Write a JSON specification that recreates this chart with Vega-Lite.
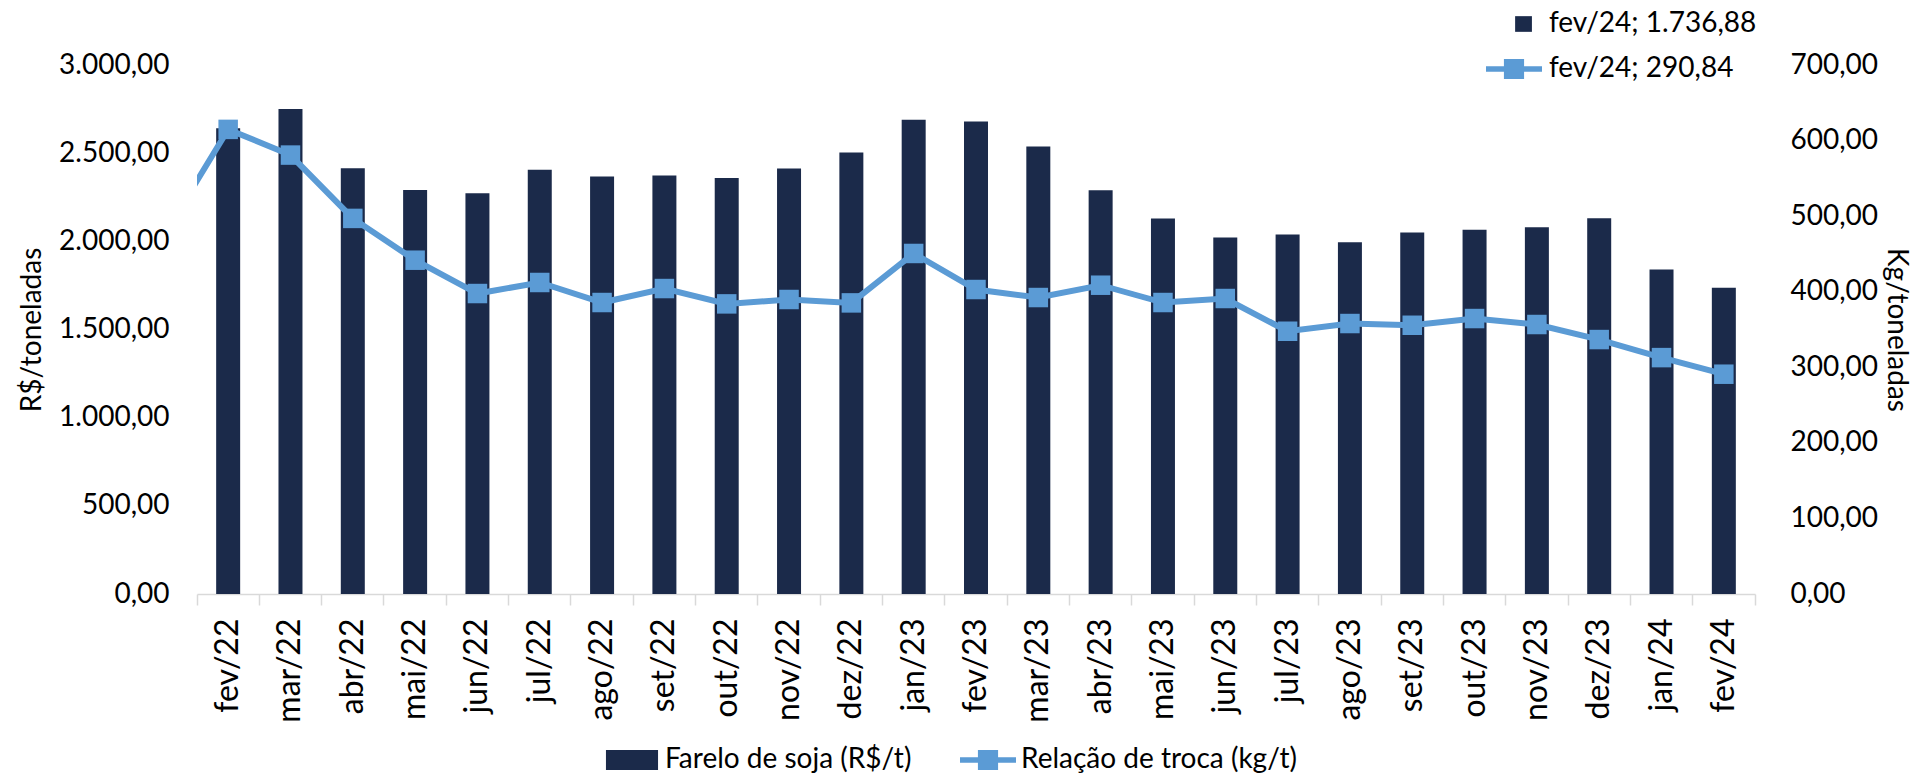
{
  "$schema": "https://vega.github.io/schema/vega-lite/v6.json",
  "width": 1558,
  "height": 529,
  "autosize": "none",
  "padding": {"left": 197, "top": 65, "right": 163, "bottom": 181},
  "config": {
    "locale": {"number": {"decimal": ",", "thousands": ".", "grouping": [3], "currency": ["R$", ""]}},
    "view": {"stroke": null},
    "font": "Lato",
    "axis": {"grid": false, "labelFont": "Lato", "titleFont": "Lato", "labelColor": "#000000", "titleColor": "#000000", "labelFontSize": 28, "titleFontSize": 28, "titleFontWeight": "normal"},
    "legend": {"labelFont": "Lato", "labelFontSize": 28, "labelColor": "#000000", "labelLimit": 0}
  },
  "datasets": {
    "dados": [
      {"mes": "jan/22", "relacao": 479},
      {"mes": "fev/22", "farelo": 2641, "relacao": 614.8},
      {"mes": "mar/22", "farelo": 2750, "relacao": 580.8},
      {"mes": "abr/22", "farelo": 2414, "relacao": 497.0},
      {"mes": "mai/22", "farelo": 2291, "relacao": 441.7},
      {"mes": "jun/22", "farelo": 2272, "relacao": 397.6},
      {"mes": "jul/22", "farelo": 2406, "relacao": 412.2},
      {"mes": "ago/22", "farelo": 2367, "relacao": 385.7},
      {"mes": "set/22", "farelo": 2374, "relacao": 404.2},
      {"mes": "out/22", "farelo": 2359, "relacao": 383.9},
      {"mes": "nov/22", "farelo": 2413, "relacao": 389.7},
      {"mes": "dez/22", "farelo": 2504, "relacao": 385.2},
      {"mes": "jan/23", "farelo": 2690, "relacao": 450.6},
      {"mes": "fev/23", "farelo": 2680, "relacao": 402.9},
      {"mes": "mar/23", "farelo": 2538, "relacao": 392.3},
      {"mes": "abr/23", "farelo": 2289, "relacao": 408.6},
      {"mes": "mai/23", "farelo": 2130, "relacao": 385.7},
      {"mes": "jun/23", "farelo": 2022, "relacao": 391.0},
      {"mes": "jul/23", "farelo": 2039, "relacao": 347.7},
      {"mes": "ago/23", "farelo": 1995, "relacao": 357.9},
      {"mes": "set/23", "farelo": 2050, "relacao": 355.6},
      {"mes": "out/23", "farelo": 2065, "relacao": 364.5},
      {"mes": "nov/23", "farelo": 2080, "relacao": 356.6},
      {"mes": "dez/23", "farelo": 2131, "relacao": 336.7},
      {"mes": "jan/24", "farelo": 1840, "relacao": 312.8},
      {"mes": "fev/24", "farelo": 1736.88, "relacao": 290.84}
    ],
    "rotulos": [
      {"rotulo": "fev/24; 1.736,88"},
      {"rotulo": "fev/24; 290,84"}
    ]
  },
  "layer": [
    {
      "data": {"name": "dados"},
      "mark": {"type": "bar", "width": {"band": 0.385}},
      "encoding": {
        "x": {
          "field": "mes", "type": "nominal", "sort": null,
          "scale": {"type": "band", "paddingInner": 0, "paddingOuter": 0,
            "domain": ["fev/22","mar/22","abr/22","mai/22","jun/22","jul/22","ago/22","set/22","out/22","nov/22","dez/22","jan/23","fev/23","mar/23","abr/23","mai/23","jun/23","jul/23","ago/23","set/23","out/23","nov/23","dez/23","jan/24","fev/24"]},
          "axis": {"orient": "bottom", "title": null, "labelAngle": -90, "labelAlign": "right", "labelBaseline": "middle", "ticks": false, "domain": true, "domainColor": "#d9d9d9", "domainWidth": 1.5, "labelPadding": 24, "labelFontSize": 32}
        },
        "y": {
          "field": "farelo", "type": "quantitative",
          "scale": {"domain": [0, 3000], "nice": false, "zero": true},
          "axis": {"orient": "left", "values": [0, 500, 1000, 1500, 2000, 2500, 3000], "format": ",.2f", "title": "R$/toneladas", "domain": false, "ticks": false, "labelPadding": 28, "titlePadding": 12}
        },
        "color": {
          "datum": "Farelo de soja (R$/t)",
          "scale": {"domain": ["Farelo de soja (R$/t)", "Relação de troca (kg/t)"], "range": ["#1b2a4a", "#5b9bd5"]},
          "legend": {
            "orient": "none", "legendX": 407, "legendY": 667, "direction": "horizontal", "title": null,
            "symbolSize": 3136, "labelOffset": 5, "columnPadding": 48, "padding": 0,
            "encode": {"symbols": {"update": {
              "shape": [{"test": "datum.value === 'Farelo de soja (R$/t)'", "value": "M-0.93,-0.36H0.93V0.36H-0.93Z"}, {"value": "M-1,-0.1H1V0.1H-1Z M-0.36,-0.36H0.36V0.36H-0.36Z"}],
              "fill": [{"test": "datum.value === 'Farelo de soja (R$/t)'", "value": "#1b2a4a"}, {"value": "#5b9bd5"}],
              "strokeWidth": {"value": 0},
              "opacity": {"value": 1}
            }}}
          }
        }
      }
    },
    {
      "data": {"name": "dados"},
      "encoding": {
        "x": {
          "field": "mes", "type": "nominal", "sort": null,
          "scale": {"type": "band", "paddingInner": 0, "paddingOuter": 0,
            "domain": ["jan/22","fev/22","mar/22","abr/22","mai/22","jun/22","jul/22","ago/22","set/22","out/22","nov/22","dez/22","jan/23","fev/23","mar/23","abr/23","mai/23","jun/23","jul/23","ago/23","set/23","out/23","nov/23","dez/23","jan/24","fev/24"],
            "range": [{"expr": "-width/25"}, {"expr": "width"}]},
          "axis": {"orient": "bottom", "title": null, "labels": false, "domain": false, "ticks": true, "tickColor": "#d9d9d9", "tickSize": 11, "tickWidth": 1.5, "bandPosition": 1}
        },
        "y": {
          "field": "relacao", "type": "quantitative",
          "scale": {"domain": [0, 700], "nice": false, "zero": true},
          "axis": {"orient": "right", "values": [0, 100, 200, 300, 400, 500, 600, 700], "format": ",.2f", "title": "Kg/toneladas", "domain": false, "ticks": false, "labelPadding": 35, "titlePadding": 4}
        },
        "color": {"datum": "Relação de troca (kg/t)"}
      },
      "layer": [
        {"mark": {"type": "line", "strokeWidth": 6, "clip": true}},
        {"mark": {"type": "point", "shape": "square", "filled": true, "size": 380, "opacity": 1, "clip": true}}
      ]
    },
    {
      "data": {"name": "rotulos"},
      "mark": {"type": "point", "filled": true, "opacity": 0},
      "encoding": {
        "fill": {
          "field": "rotulo", "type": "nominal", "sort": null,
          "scale": {"domain": ["fev/24; 1.736,88", "fev/24; 290,84"], "range": ["#1b2a4a", "#5b9bd5"]}
        },
        "shape": {
          "field": "rotulo", "type": "nominal", "sort": null,
          "scale": {"domain": ["fev/24; 1.736,88", "fev/24; 290,84"], "range": ["M0.04,-0.28H0.64V0.28H0.04Z", "M-1,-0.1H1V0.1H-1Z M-0.36,-0.36H0.36V0.36H-0.36Z"]},
          "legend": {
            "orient": "none", "legendX": 1289, "legendY": -69, "direction": "vertical", "title": null,
            "symbolSize": 3136, "labelOffset": 7, "rowPadding": 3, "padding": 0,
            "symbolOpacity": 1, "symbolStrokeWidth": 0,
            "encode": {
              "labels": {"update": {"dx": [{"test": "datum.value === 'fev/24; 290,84'", "value": 6}, {"value": 0}]}}
            }
          }
        }
      }
    }
  ],
  "resolve": {"scale": {"x": "independent", "y": "independent"}, "axis": {"x": "independent", "y": "independent"}}
}
